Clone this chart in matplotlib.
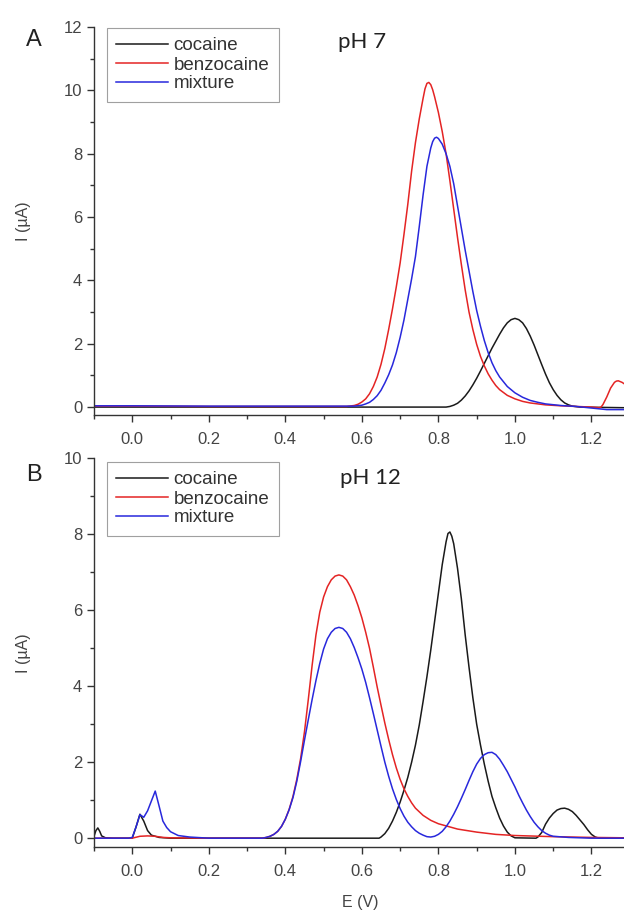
import matplotlib
matplotlib.use("Agg")
import matplotlib.pyplot as plt
from matplotlib.ticker import MultipleLocator, FormatStrFormatter

plt.rcParams['font.family'] = ['Liberation Sans', 'DejaVu Sans']

# ---- Panel A (pH 7) ----
a_cocaine_E = [-0.10, 0.82, 0.83, 0.84, 0.85, 0.86, 0.87, 0.88, 0.89, 0.90, 0.91, 0.92,
               0.93, 0.94, 0.95, 0.96, 0.97, 0.98, 0.99, 1.00, 1.01, 1.02, 1.03, 1.04,
               1.05, 1.06, 1.07, 1.08, 1.09, 1.10, 1.11, 1.12, 1.13, 1.14, 1.15, 1.17,
               1.285]
a_cocaine_I = [0.00, 0.00, 0.02, 0.06, 0.12, 0.22, 0.35, 0.51, 0.70, 0.91, 1.14, 1.38,
               1.62, 1.86, 2.08, 2.30, 2.50, 2.66, 2.76, 2.80, 2.76, 2.66, 2.48, 2.24,
               1.96, 1.65, 1.34, 1.04, 0.77, 0.55, 0.37, 0.23, 0.13, 0.07, 0.03, 0.00,
               -0.02]

a_benzo_E = [-0.10, 0.00, 0.20, 0.40, 0.56, 0.58, 0.59, 0.60, 0.61, 0.62, 0.63, 0.64,
             0.65, 0.66, 0.67, 0.68, 0.69, 0.70, 0.71, 0.72, 0.73, 0.74, 0.75, 0.76,
             0.765, 0.77, 0.775, 0.78, 0.785, 0.79, 0.80, 0.81, 0.82, 0.83, 0.84, 0.85,
             0.86, 0.87, 0.88, 0.89, 0.90, 0.91, 0.92, 0.93, 0.94, 0.95, 0.96, 0.98,
             1.00, 1.02, 1.04, 1.08, 1.12, 1.16, 1.20, 1.22, 1.225, 1.23, 1.24, 1.25,
             1.26, 1.265, 1.27, 1.28, 1.29]
a_benzo_I = [0.03, 0.03, 0.02, 0.02, 0.02, 0.05, 0.09, 0.16, 0.26, 0.42, 0.65, 0.95,
             1.35, 1.85, 2.45, 3.10, 3.80, 4.55, 5.45, 6.40, 7.45, 8.35, 9.10, 9.75,
             10.05, 10.22, 10.25, 10.18, 10.02, 9.80, 9.30, 8.70, 8.00, 7.15, 6.25, 5.35,
             4.50, 3.70, 3.00, 2.45, 1.98, 1.60, 1.30, 1.05, 0.85, 0.68, 0.55, 0.37,
             0.26, 0.18, 0.13, 0.07, 0.04, 0.02, 0.00, -0.02, 0.00, 0.08, 0.32, 0.60,
             0.78, 0.82, 0.83, 0.78, 0.70]

a_mix_E = [-0.10, 0.00, 0.20, 0.40, 0.58, 0.60, 0.61, 0.62, 0.63, 0.64, 0.65, 0.66,
           0.67, 0.68, 0.69, 0.70, 0.71, 0.72, 0.73, 0.74, 0.75, 0.76, 0.77, 0.78,
           0.785, 0.79, 0.795, 0.80, 0.81, 0.82, 0.83, 0.84, 0.85, 0.86, 0.87, 0.88,
           0.89, 0.90, 0.91, 0.92, 0.93, 0.94, 0.95, 0.96, 0.98, 1.00, 1.02, 1.04,
           1.06, 1.08, 1.12, 1.16, 1.20, 1.24, 1.285]
a_mix_I = [0.04, 0.04, 0.03, 0.03, 0.03, 0.06, 0.10, 0.15, 0.24, 0.36, 0.53, 0.76,
           1.02, 1.33, 1.72, 2.20, 2.75, 3.40, 4.05, 4.75, 5.70, 6.70, 7.60, 8.18,
           8.38, 8.49, 8.52, 8.48, 8.30, 8.00, 7.60, 7.05, 6.35, 5.65, 4.95, 4.30,
           3.65, 3.05, 2.55, 2.10, 1.72, 1.40, 1.15, 0.95, 0.65, 0.45, 0.31, 0.21,
           0.15, 0.10, 0.05, 0.02, -0.03, -0.08, -0.08]

# ---- Panel B (pH 12) ----
b_cocaine_E = [-0.10, -0.095, -0.09, -0.085, -0.08, -0.07, -0.05, 0.00, 0.01, 0.02, 0.03,
               0.04, 0.05, 0.07, 0.10, 0.645, 0.65, 0.66, 0.67, 0.68, 0.69, 0.70, 0.71,
               0.72, 0.73, 0.74, 0.75, 0.76, 0.77, 0.78, 0.79, 0.80, 0.81, 0.82, 0.825,
               0.83, 0.835, 0.84, 0.85, 0.86, 0.87, 0.88, 0.89, 0.90, 0.91, 0.92, 0.93,
               0.94, 0.95, 0.96, 0.97, 0.98, 0.99, 1.00, 1.055, 1.06, 1.07, 1.08, 1.09,
               1.10, 1.11, 1.12, 1.13, 1.14, 1.15, 1.16, 1.17, 1.18, 1.19, 1.20, 1.21,
               1.22, 1.285]
b_cocaine_I = [0.05, 0.20, 0.27, 0.18, 0.06, 0.01, 0.00, 0.00, 0.30, 0.63, 0.45,
               0.20, 0.08, 0.02, 0.00, 0.00, 0.03, 0.12, 0.26, 0.45, 0.68, 0.95, 1.26,
               1.60, 2.00, 2.45, 2.98, 3.60, 4.25, 4.95, 5.70, 6.45, 7.20, 7.80, 8.02,
               8.06, 7.95, 7.75, 7.10, 6.30, 5.35, 4.50, 3.70, 3.00, 2.45, 1.95, 1.50,
               1.10, 0.80, 0.53, 0.32, 0.16, 0.06, 0.01, 0.00, 0.03, 0.15, 0.37, 0.53,
               0.65, 0.74, 0.78, 0.79, 0.76, 0.70, 0.60, 0.48, 0.36, 0.22, 0.10, 0.03,
               0.00, 0.00]

b_benzo_E = [-0.10, 0.00, 0.02, 0.04, 0.06, 0.08, 0.10, 0.20, 0.34, 0.35, 0.36, 0.37,
             0.38, 0.39, 0.40, 0.41, 0.42, 0.43, 0.44, 0.45, 0.46, 0.47, 0.48, 0.49,
             0.50, 0.51, 0.52, 0.53, 0.54, 0.55, 0.56, 0.57, 0.58, 0.59, 0.60, 0.61,
             0.62, 0.63, 0.64, 0.65, 0.66, 0.67, 0.68, 0.69, 0.70, 0.71, 0.72, 0.73,
             0.74, 0.76, 0.78, 0.80, 0.85, 0.90, 0.95, 1.00, 1.10, 1.20, 1.285]
b_benzo_I = [0.00, 0.00, 0.05, 0.06, 0.05, 0.02, 0.01, 0.00, 0.00, 0.02, 0.05, 0.10,
             0.18, 0.31, 0.50, 0.76, 1.10, 1.55, 2.10, 2.80, 3.65, 4.55, 5.35, 5.95,
             6.35, 6.62, 6.80, 6.90, 6.93, 6.90, 6.80, 6.62, 6.40, 6.12, 5.80, 5.42,
             5.00, 4.50, 3.98, 3.50, 3.03, 2.60, 2.20, 1.85, 1.55, 1.30, 1.10, 0.93,
             0.79, 0.60, 0.47, 0.38, 0.24, 0.16, 0.10, 0.07, 0.04, 0.02, 0.01]

b_mix_E = [-0.10, -0.01, 0.00, 0.01, 0.02, 0.03, 0.04, 0.05, 0.06, 0.07, 0.08, 0.09,
           0.10, 0.12, 0.15, 0.20, 0.34, 0.35, 0.36, 0.37, 0.38, 0.39, 0.40, 0.41,
           0.42, 0.43, 0.44, 0.45, 0.46, 0.47, 0.48, 0.49, 0.50, 0.51, 0.52, 0.53,
           0.54, 0.55, 0.56, 0.57, 0.58, 0.59, 0.60, 0.61, 0.62, 0.63, 0.64, 0.65,
           0.66, 0.67, 0.68, 0.69, 0.70, 0.71, 0.72, 0.73, 0.74, 0.75, 0.76, 0.77,
           0.78, 0.79, 0.80, 0.81, 0.82, 0.83, 0.84, 0.85, 0.86, 0.87, 0.88, 0.89,
           0.90, 0.91, 0.92, 0.93, 0.94, 0.95, 0.96, 0.97, 0.98, 0.99, 1.00, 1.01,
           1.02, 1.03, 1.04, 1.05, 1.06, 1.07, 1.08, 1.09, 1.10, 1.14, 1.20, 1.285]
b_mix_I = [0.00, 0.00, 0.02, 0.30, 0.62, 0.55, 0.72, 0.98, 1.24, 0.85, 0.45, 0.28,
           0.17, 0.07, 0.03, 0.00, 0.00, 0.02, 0.05, 0.10, 0.18, 0.31, 0.50, 0.75,
           1.07, 1.50, 2.02, 2.58, 3.12, 3.65, 4.15, 4.60, 4.98, 5.25, 5.42, 5.52,
           5.55, 5.52, 5.42, 5.25, 5.02, 4.75, 4.45, 4.10, 3.70, 3.28, 2.85, 2.42,
           2.00, 1.63, 1.30, 1.02, 0.78, 0.58, 0.42, 0.30, 0.20, 0.13, 0.08, 0.04,
           0.03, 0.05, 0.10, 0.18, 0.30, 0.45, 0.63, 0.83, 1.05, 1.28, 1.52, 1.75,
           1.95, 2.10, 2.20, 2.25, 2.26, 2.20, 2.08, 1.92, 1.75, 1.55, 1.35, 1.13,
           0.93, 0.74, 0.57, 0.42, 0.30, 0.20, 0.13, 0.08, 0.05, 0.02, 0.00, 0.00]

labels = ["cocaine", "benzocaine", "mixture"]
colors = ["#1a1a1a", "#e42424", "#2828dc"]

W, H = 624, 911
fig = plt.figure(figsize=(W / 100, H / 100), dpi=100)


def px_axes(left, top, right, bottom):
    return fig.add_axes([left / W, 1 - bottom / H, (right - left) / W, (bottom - top) / H])


def style(ax, ylim, ymajor):
    ax.set_xlim(-0.1, 1.285)
    ax.set_ylim(*ylim)
    ax.xaxis.set_major_locator(MultipleLocator(0.2))
    ax.xaxis.set_minor_locator(MultipleLocator(0.1))
    ax.yaxis.set_major_locator(MultipleLocator(ymajor))
    ax.yaxis.set_minor_locator(MultipleLocator(ymajor / 2))
    ax.xaxis.set_major_formatter(FormatStrFormatter('%.1f'))
    for s in ['top', 'right']:
        ax.spines[s].set_visible(False)
    for s in ['left', 'bottom']:
        ax.spines[s].set_color('#333333')
        ax.spines[s].set_linewidth(1.0)
    ax.tick_params(which='major', direction='out', length=5, width=1.0,
                   colors='#333333', labelsize=12, labelcolor='#444444')
    ax.tick_params(which='minor', direction='out', length=3, width=1.0, colors='#333333')
    ax.tick_params(axis='x', which='major', pad=7)
    ax.set_ylabel("I (\u00b5A)", fontsize=11.5, color='#444444')
    ax.yaxis.set_label_coords(-63 / 530, 0.5)


def legend(ax, top_px):
    leg = ax.legend(loc='upper left', bbox_to_anchor=(107 / W, 1 - top_px / H),
                    bbox_transform=fig.transFigure, frameon=True, fancybox=False,
                    fontsize=13.5, handlelength=2.75, handletextpad=0.3,
                    borderpad=0.5, labelspacing=0.1, borderaxespad=0)
    leg.get_frame().set_edgecolor('#888888')
    leg.get_frame().set_linewidth(0.8)
    for t in leg.get_texts():
        t.set_color('#333333')


axA = px_axes(94, 27, W, 415)
axA.plot(a_cocaine_E, a_cocaine_I, color=colors[0], lw=1.1, label=labels[0])
axA.plot(a_benzo_E, a_benzo_I, color=colors[1], lw=1.1, label=labels[1])
axA.plot(a_mix_E, a_mix_I, color=colors[2], lw=1.1, label=labels[2])
style(axA, (-0.25, 12), 2)
legend(axA, 28)

axB = px_axes(94, 458.3, W, 847.3)
axB.plot(b_cocaine_E, b_cocaine_I, color=colors[0], lw=1.1, label=labels[0])
axB.plot(b_benzo_E, b_benzo_I, color=colors[1], lw=1.1, label=labels[1])
axB.plot(b_mix_E, b_mix_I, color=colors[2], lw=1.1, label=labels[2])
style(axB, (-0.24, 10), 2)
legend(axB, 462)
axB.set_xlabel("E (V)", fontsize=11.5, color='#444444')
axB.xaxis.set_label_coords(266 / 530, -(895 - 847.3) / 389)

fig.text(34 / W, 1 - 40 / H, "A", fontsize=17, ha='center', va='center', color='#222222')
fig.text(34 / W, 1 - 475 / H, "B", fontsize=17, ha='center', va='center', color='#222222')
fig.text(362 / W, 1 - 42 / H, "pH 7", fontsize=16, ha='center', va='center',
         color='#222222', family=['Lato', 'DejaVu Sans'])
fig.text(370 / W, 1 - 478 / H, "pH 12", fontsize=16, ha='center', va='center',
         color='#222222', family=['Lato', 'DejaVu Sans'])

fig.savefig("out.png", dpi=100)
